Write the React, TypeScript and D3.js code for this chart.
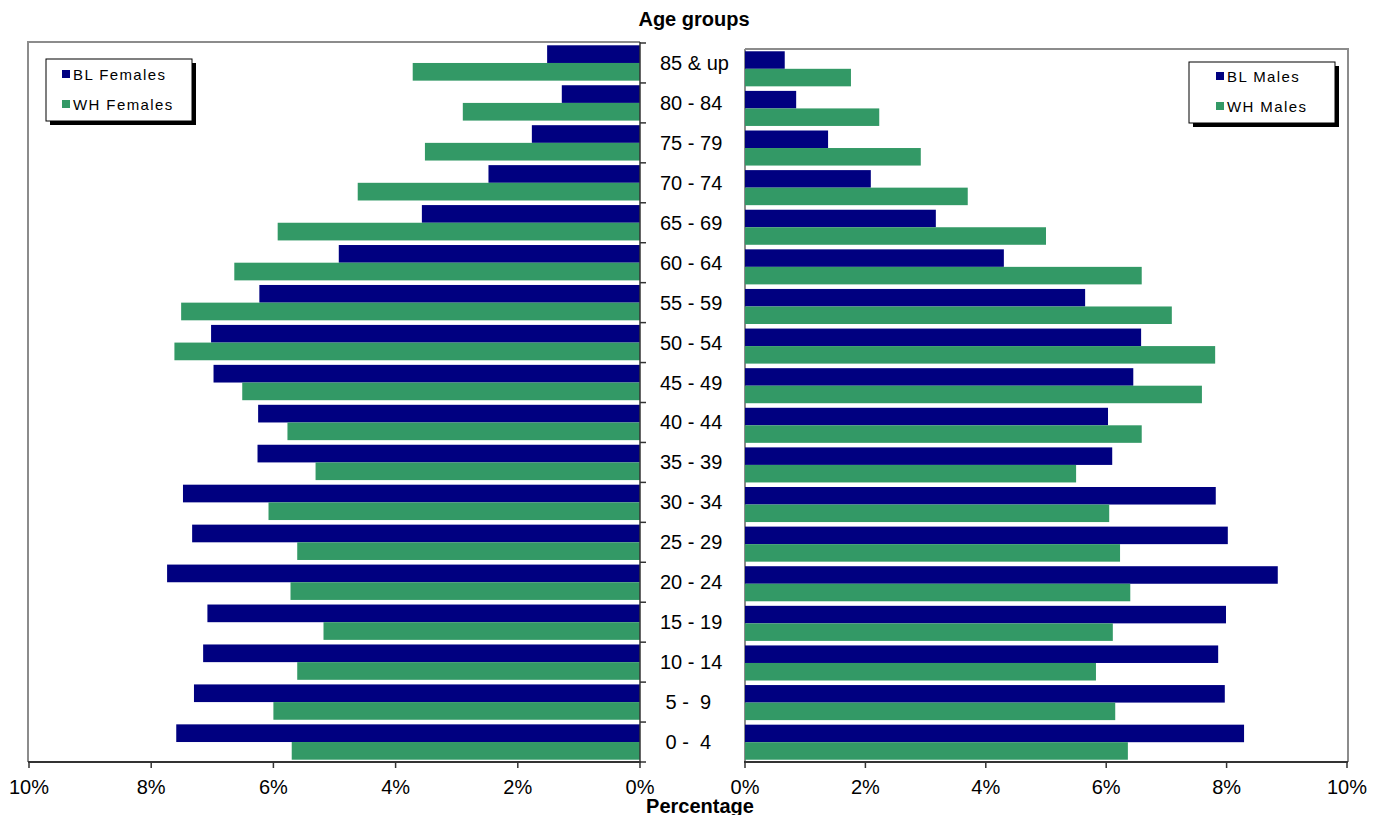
import React from "react";
import * as d3 from "d3";

const ageGroups = ["85 & up", "80 - 84", "75 - 79", "70 - 74", "65 - 69", "60 - 64", "55 - 59", "50 - 54", "45 - 49", "40 - 44", "35 - 39", "30 - 34", "25 - 29", "20 - 24", "15 - 19", "10 - 14", " 5 -  9", " 0 -  4"];

const blFemales = [1.52, 1.28, 1.77, 2.48, 3.57, 4.93, 6.23, 7.02, 6.98, 6.25, 6.26, 7.48, 7.33, 7.74, 7.08, 7.15, 7.30, 7.59];
const whFemales = [3.72, 2.90, 3.52, 4.62, 5.93, 6.64, 7.51, 7.62, 6.51, 5.77, 5.31, 6.08, 5.61, 5.72, 5.18, 5.61, 6.00, 5.70];
const blMales = [0.66, 0.85, 1.38, 2.09, 3.17, 4.30, 5.65, 6.58, 6.45, 6.03, 6.10, 7.82, 8.02, 8.85, 7.99, 7.86, 7.97, 8.29];
const whMales = [1.76, 2.23, 2.92, 3.70, 5.00, 6.59, 7.09, 7.81, 7.59, 6.59, 5.50, 6.05, 6.23, 6.40, 6.11, 5.83, 6.15, 6.36];

const ticks = [0, 2, 4, 6, 8, 10];

const NAVY = "#000080";
const GREEN = "#339966";
const FONT = "'Liberation Sans', Arial, sans-serif";

export default function App() {
  const W = 1387, H = 815;
  const xL = d3.scaleLinear().domain([0, 10]).range([640, 29]);
  const xR = d3.scaleLinear().domain([0, 10]).range([745, 1347]);
  const yL = d3.scaleBand().domain(ageGroups).range([43, 762]).padding(0);
  const yR = d3.scaleBand().domain(ageGroups).range([49, 762]).padding(0);
  const sub = (band: d3.ScaleBand<string>) =>
    d3.scaleBand().domain(["BL", "WH"]).range([0, band.bandwidth()]).paddingInner(0).paddingOuter(0.13);
  const sL = sub(yL);
  const sR = sub(yR);
  const axisY = 762;

  return (
    <svg width={W} height={H} style={{ position: "fixed", left: 0, top: 0, background: "#fff" }} fontFamily={FONT}>
      <rect x={0} y={0} width={W} height={H} fill="#fff" />
      {/* Left panel frame */}
      <path d={`M640,42 H28 V${axisY}`} fill="none" stroke="#8c8c8c" strokeWidth={2} />
      {/* Right panel frame */}
      <path d={`M745,49 H1348 V${axisY}`} fill="none" stroke="#8c8c8c" strokeWidth={2} />
      <line x1={745} x2={745} y1={49} y2={axisY} stroke="#8c8c8c" strokeWidth={2} />

      {/* Left bars */}
      {ageGroups.map((g, i) => (
        <g key={"L" + g}>
          <rect x={xL(blFemales[i])} y={(yL(g) as number) + (sL("BL") as number)} width={xL(0) - xL(blFemales[i])} height={sL.bandwidth()} fill={NAVY} />
          <rect x={xL(whFemales[i])} y={(yL(g) as number) + (sL("WH") as number)} width={xL(0) - xL(whFemales[i])} height={sL.bandwidth()} fill={GREEN} />
        </g>
      ))}
      {/* Right bars */}
      {ageGroups.map((g, i) => (
        <g key={"R" + g}>
          <rect x={xR(0)} y={(yR(g) as number) + (sR("BL") as number)} width={xR(blMales[i]) - xR(0)} height={sR.bandwidth()} fill={NAVY} />
          <rect x={xR(0)} y={(yR(g) as number) + (sR("WH") as number)} width={xR(whMales[i]) - xR(0)} height={sR.bandwidth()} fill={GREEN} />
        </g>
      ))}

      {/* Left y axis line with ticks */}
      <line x1={640} x2={640} y1={42} y2={axisY} stroke="#333" strokeWidth={1.5} />
      {ageGroups.map((g) => (
        <line key={"lt" + g} x1={640} x2={646} y1={yL(g) as number} y2={yL(g) as number} stroke="#333" strokeWidth={1.5} />
      ))}
      <line x1={640} x2={646} y1={axisY} y2={axisY} stroke="#333" strokeWidth={1.5} />

      {/* Bottom axes */}
      <line x1={28} x2={641} y1={axisY} y2={axisY} stroke="#333" strokeWidth={2} />
      <line x1={744} x2={1348} y1={axisY} y2={axisY} stroke="#333" strokeWidth={2} />
      {ticks.map((t) => (
        <g key={"bt" + t}>
          <line x1={xL(t)} x2={xL(t)} y1={axisY} y2={axisY + 6} stroke="#333" strokeWidth={1.5} />
          <text x={xL(t)} y={794} textAnchor="middle" fontSize={20} fill="#000">{t}%</text>
          <line x1={xR(t)} x2={xR(t)} y1={axisY} y2={axisY + 6} stroke="#333" strokeWidth={1.5} />
          <text x={xR(t)} y={794} textAnchor="middle" fontSize={20} fill="#000">{t}%</text>
        </g>
      ))}

      {/* Category labels */}
      {ageGroups.map((g) => (
        <text key={"cl" + g} x={660} y={(yL(g) as number) + yL.bandwidth() / 2 + 7} fontSize={20} fill="#000" style={{ whiteSpace: "pre" }}>{g}</text>
      ))}

      {/* Axis titles */}
      <text x={694} y={26} textAnchor="middle" fontSize={20} fontWeight="bold" fill="#000">Age groups</text>
      <text x={700} y={813} textAnchor="middle" fontSize={20} fontWeight="bold" fill="#000">Percentage</text>

      {/* Left legend */}
      <rect x={50} y={63} width={146} height={62} fill="#000" />
      <rect x={46} y={59} width={146} height={62} fill="#fff" stroke="#000" strokeWidth={1} />
      <rect x={62} y={70} width={8} height={8} fill={NAVY} />
      <text x={73} y={80} fontSize={15} letterSpacing={1.4} fill="#000">BL Females</text>
      <rect x={62} y={100} width={8} height={8} fill={GREEN} />
      <text x={73} y={110} fontSize={15} letterSpacing={1.4} fill="#000">WH Females</text>

      {/* Right legend */}
      <rect x={1193} y={66} width={146} height={61} fill="#000" />
      <rect x={1189} y={62} width={146} height={61} fill="#fff" stroke="#000" strokeWidth={1} />
      <rect x={1216} y={72} width={8} height={8} fill={NAVY} />
      <text x={1227} y={82} fontSize={15} letterSpacing={1.4} fill="#000">BL Males</text>
      <rect x={1216} y={102} width={8} height={8} fill={GREEN} />
      <text x={1227} y={112} fontSize={15} letterSpacing={1.4} fill="#000">WH Males</text>
    </svg>
  );
}
